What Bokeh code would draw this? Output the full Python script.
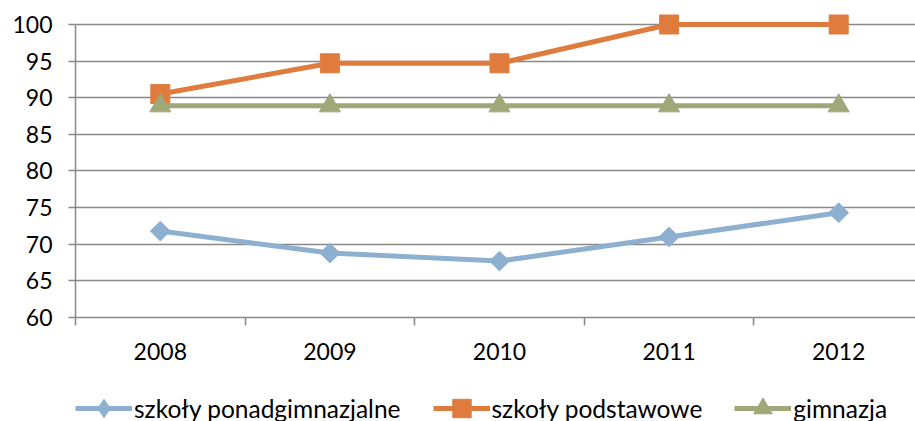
from bokeh.plotting import figure
from bokeh.layouts import column
from bokeh.models import FixedTicker, Legend, LegendItem, CustomJSTickFormatter
from bokeh.embed import file_html
from bokeh.resources import INLINE
import numpy as np

years = ["2008", "2009", "2010", "2011", "2012"]
ponadgimnazjalne = [71.8, 68.8, 67.7, 71.0, 74.3]
podstawowe = [90.5, 94.7, 94.7, 100.0, 100.0]
gimnazja = [88.9, 88.9, 88.9, 88.9, 88.9]
y_ticks = [60, 65, 70, 75, 80, 85, 90, 95, 100]
series_names = ["szkoły ponadgimnazjalne", "szkoły podstawowe", "gimnazja"]

xs = [i + 0.5 for i in range(len(years))]
FONT = "Lato"
GRID = "#888888"
BLUE = "#8EB0D0"
ORANGE = "#E07B3E"
GREEN = "#A0A87A"

p = figure(width=915, height=370, x_range=(0, 4.953), y_range=(60, 101.5),
           output_backend="svg", toolbar_location=None,
           min_border_left=75, min_border_top=13, min_border_bottom=53,
           min_border_right=0)
p.outline_line_color = None
p.background_fill_color = "white"

# x axis
p.xaxis.ticker = FixedTicker(ticks=xs, minor_ticks=list(range(len(years) + 1)))
p.xaxis.formatter = CustomJSTickFormatter(args=dict(labels=years),
                                          code="return labels[Math.round(tick - 0.5)] || '';")
p.xaxis.major_tick_line_color = None
p.xaxis.major_tick_out = 8
p.xaxis.minor_tick_out = 8
p.xaxis.minor_tick_in = 0
p.xaxis.minor_tick_line_color = GRID
p.xaxis.minor_tick_line_width = 1.5
p.xaxis.axis_line_color = GRID
p.xaxis.axis_line_width = 1.5
p.xaxis.major_label_standoff = 17
p.xaxis.major_label_text_font = FONT
p.xaxis.major_label_text_font_size = "23px"
p.xaxis.major_label_text_color = "black"

# y axis
p.yaxis.ticker = FixedTicker(ticks=y_ticks, minor_ticks=[])
p.yaxis.bounds = (60, 100)
p.yaxis.major_tick_out = 7
p.yaxis.major_tick_in = 0
p.yaxis.major_tick_line_color = GRID
p.yaxis.major_tick_line_width = 1.5
p.yaxis.axis_line_color = GRID
p.yaxis.axis_line_width = 1.5
p.yaxis.major_label_standoff = 16
p.yaxis.major_label_text_font = FONT
p.yaxis.major_label_text_font_size = "23px"
p.yaxis.major_label_text_color = "black"

p.xgrid.visible = False
p.ygrid.ticker = FixedTicker(ticks=y_ticks, minor_ticks=[])
p.ygrid.grid_line_color = GRID
p.ygrid.grid_line_width = 1.5

p.line(xs, ponadgimnazjalne, line_color=BLUE, line_width=5)
p.scatter(xs, ponadgimnazjalne, marker="square", angle=np.pi / 4, size=14,
          fill_color=BLUE, line_color=BLUE)
p.line(xs, podstawowe, line_color=ORANGE, line_width=5)
p.scatter(xs, podstawowe, marker="square", size=19,
          fill_color=ORANGE, line_color=ORANGE)
p.line(xs, gimnazja, line_color=GREEN, line_width=5)
p.scatter(xs, gimnazja, marker="triangle", size=21,
          fill_color=GREEN, line_color=GREEN)

# legend strip (separate figure so it is not clipped by the plot frame)
lg = figure(width=915, height=51, x_range=(0, 1), y_range=(0, 1),
            output_backend="svg", toolbar_location=None,
            min_border_left=0, min_border_right=0, min_border_top=0,
            min_border_bottom=0, x_axis_location=None, y_axis_location=None)
lg.outline_line_color = None
lg.xgrid.visible = False
lg.ygrid.visible = False

items = []
for name, col, mk in zip(series_names, [BLUE, ORANGE, GREEN],
                         ["diamond", "square", "triangle"]):
    # placeholder point far outside the visible range, only for the legend swatch
    r1 = lg.line([-10, -9], [-10, -10], line_color=col, line_width=5)
    r2 = lg.scatter([-10], [-10], marker=mk, fill_color=col, line_color=col)
    items.append(LegendItem(label=name, renderers=[r1, r2]))

legend = Legend(items=items, location=(0, -10), orientation="horizontal")
legend.border_line_color = None
legend.background_fill_alpha = 0
legend.padding = 0
legend.margin = 0
legend.spacing = 32
legend.label_standoff = 2
legend.glyph_width = 57
legend.glyph_height = 46
legend.label_height = 46
legend.label_text_font = FONT
legend.label_text_font_size = "24.5px"
legend.label_text_color = "black"
lg.add_layout(legend, "center")

layout = column(p, lg, spacing=0)
open("out.html", "w").write(file_html(layout, INLINE))
